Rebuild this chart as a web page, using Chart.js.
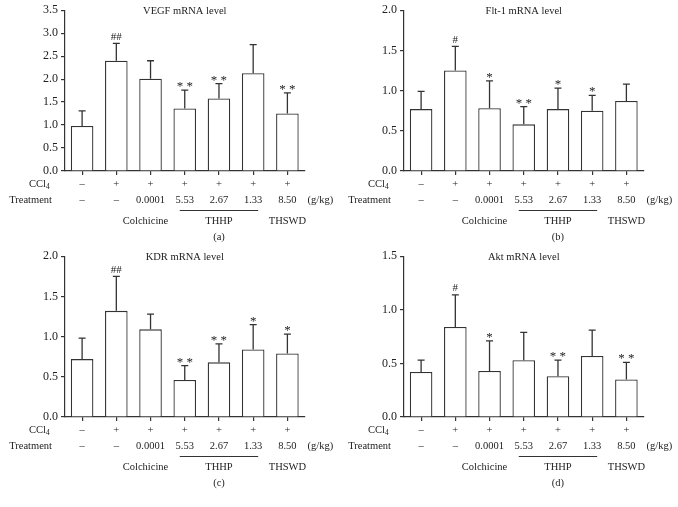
<!DOCTYPE html>
<html>
<head>
<meta charset="utf-8">
<script src="https://cdn.jsdelivr.net/npm/chart.js@4.4.1/dist/chart.umd.min.js"></script>
<style>
  body { margin: 0; background: #fff; width: 678px; height: 507px; position: relative; overflow: hidden; }
  canvas { position: absolute; }
</style>
</head>
<body>
<canvas id="panel-a" width="339" height="250" style="left:0;top:0"></canvas>
<canvas id="panel-b" width="339" height="250" style="left:339px;top:0"></canvas>
<canvas id="panel-c" width="339" height="250" style="left:0;top:246px"></canvas>
<canvas id="panel-d" width="339" height="250" style="left:339px;top:246px"></canvas>
<script>
// groups (x categories)
const ccl4 = ["–", "+", "+", "+", "+", "+", "+"];
const treatment = ["–", "–", "0.0001", "5.53", "2.67", "1.33", "8.50"];

// VEGF
const vegfMean = [0.98, 2.40, 2.01, 1.36, 1.58, 2.13, 1.25];
const vegfSd = [0.33, 0.38, 0.39, 0.40, 0.32, 0.62, 0.45];
const vegfMarks = ["", "##", "", "**", "**", "", "**"];
// Flt-1
const fltMean = [0.77, 1.25, 0.78, 0.58, 0.77, 0.75, 0.87];
const fltSd = [0.22, 0.30, 0.34, 0.22, 0.26, 0.19, 0.21];
const fltMarks = ["", "#", "*", "**", "*", "*", ""];
// KDR
const kdrMean = [0.72, 1.32, 1.09, 0.46, 0.68, 0.84, 0.79];
const kdrSd = [0.26, 0.43, 0.19, 0.18, 0.23, 0.31, 0.24];
const kdrMarks = ["", "##", "", "**", "**", "*", "*"];
// Akt
const aktMean = [0.42, 0.84, 0.43, 0.53, 0.38, 0.57, 0.35];
const aktSd = [0.11, 0.30, 0.28, 0.26, 0.15, 0.24, 0.16];
const aktMarks = ["", "#", "*", "", "**", "", "**"];

const SERIF = "'Liberation Serif', 'DejaVu Serif', serif";
const INK = "#222";
const LINE = "#333";

// error bars, significance marks and the table under the axis
const extras = {
  id: "extras",
  afterDatasetsDraw(chart, args, opts) {
    const ctx = chart.ctx;
    const x = chart.scales.x, y = chart.scales.y, a = chart.chartArea;
    ctx.save();
    ctx.strokeStyle = LINE;
    ctx.fillStyle = INK;
    ctx.lineWidth = 1.3;
    ctx.textAlign = "center";
    opts.mean.forEach((m, i) => {
      const px = x.getPixelForValue(i);
      const y0 = y.getPixelForValue(m);
      const y1 = y.getPixelForValue(m + opts.sd[i]);
      ctx.beginPath();
      ctx.moveTo(px, y0);
      ctx.lineTo(px, y1);
      ctx.moveTo(px - 3.5, y1);
      ctx.lineTo(px + 3.5, y1);
      ctx.stroke();
      const mk = opts.marks[i];
      if (mk) {
        ctx.textBaseline = "alphabetic";
        if (mk.includes("*")) {
          ctx.font = "13px " + SERIF;
          ctx.fillText(mk.split("").join(" "), px, y1);
        } else {
          ctx.font = "11px " + SERIF;
          ctx.fillText(mk, px, y1 - 3.5);
        }
      }
    });

    // title
    ctx.font = "10.5px " + SERIF;
    ctx.textBaseline = "middle";
    ctx.fillText(opts.title, (a.left + a.right) / 2, a.top + 1);

    // rows under the axis
    ctx.font = "10.5px " + SERIF;
    ccl4.forEach((t, i) => ctx.fillText(t, x.getPixelForValue(i), a.bottom + 13));
    treatment.forEach((t, i) => ctx.fillText(t, x.getPixelForValue(i), a.bottom + 29));
    ctx.textAlign = "left";
    ctx.fillText("(g/kg)", a.right + 3, a.bottom + 29);

    ctx.textAlign = "right";
    ctx.fillText("Treatment", a.left - 13, a.bottom + 29);
    ctx.fillText("CCl", a.left - 19, a.bottom + 13);
    ctx.font = "7.5px " + SERIF;
    ctx.textAlign = "left";
    ctx.fillText("4", a.left - 19, a.bottom + 16.5);

    // treatment groups
    ctx.font = "10.5px " + SERIF;
    ctx.textAlign = "center";
    ctx.fillText("Colchicine", x.getPixelForValue(2) - 5, a.bottom + 50);
    ctx.fillText("THHP", x.getPixelForValue(4), a.bottom + 50);
    ctx.fillText("THSWD", x.getPixelForValue(6), a.bottom + 50);
    ctx.lineWidth = 1;
    ctx.beginPath();
    ctx.moveTo(x.getPixelForValue(3) - 5, a.bottom + 39.5);
    ctx.lineTo(x.getPixelForValue(5) + 5, a.bottom + 39.5);
    ctx.stroke();

    // panel tag
    ctx.fillText(opts.tag, x.getPixelForValue(4), a.bottom + 66);
    ctx.restore();
  }
};

function makePanel(id, title, tag, mean, sd, marks, yMax) {
  return new Chart(document.getElementById(id), {
    type: "bar",
    data: {
      labels: treatment,
      datasets: [{
        data: mean,
        backgroundColor: "#fff",
        borderColor: LINE,
        borderWidth: 1.3,
        barPercentage: 0.66,
        categoryPercentage: 1
      }]
    },
    options: {
      responsive: false,
      animation: false,
      layout: { padding: { top: 8, right: 34.5, left: 0, bottom: 0 } },
      plugins: {
        legend: { display: false },
        tooltip: { enabled: false },
        extras: { title, tag, mean, sd, marks }
      },
      scales: {
        x: {
          grid: { display: true, drawOnChartArea: false, offset: false, tickLength: 4, color: LINE, lineWidth: 1.2 },
          border: { display: true, color: LINE, width: 1.2 },
          ticks: { display: false },
          afterFit: (s) => { s.height = 79; }
        },
        y: {
          min: 0,
          max: yMax,
          grid: { display: true, drawOnChartArea: false, tickLength: 4, color: LINE, lineWidth: 1.2 },
          border: { display: true, color: LINE, width: 1.2 },
          ticks: {
            stepSize: 0.5,
            padding: 3,
            color: INK,
            font: { family: SERIF, size: 12 },
            callback: (v) => v.toFixed(1)
          },
          afterFit: (s) => { s.width = 65; }
        }
      }
    },
    plugins: [extras]
  });
}

makePanel("panel-a", "VEGF mRNA level", "(a)", vegfMean, vegfSd, vegfMarks, 3.5);
makePanel("panel-b", "Flt-1 mRNA level", "(b)", fltMean, fltSd, fltMarks, 2.0);
makePanel("panel-c", "KDR mRNA level", "(c)", kdrMean, kdrSd, kdrMarks, 2.0);
makePanel("panel-d", "Akt mRNA level", "(d)", aktMean, aktSd, aktMarks, 1.5);
</script>
</body>
</html>
